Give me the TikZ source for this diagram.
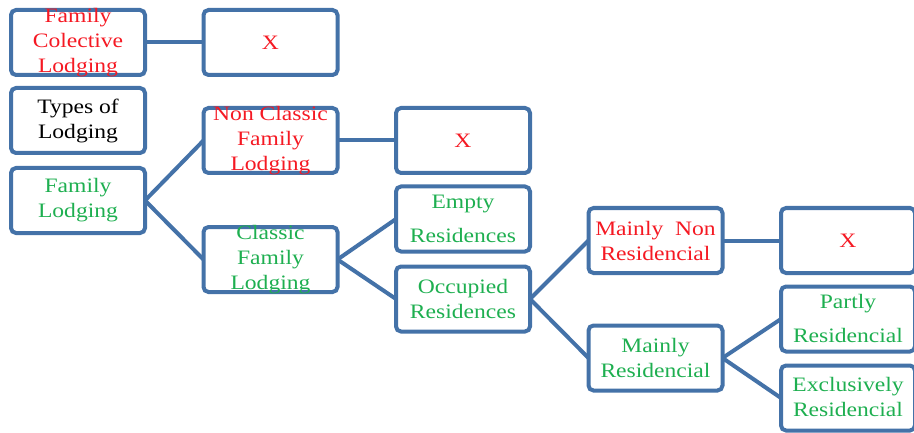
\documentclass[tikz,border=0pt]{standalone}
\usepackage{fontspec}
\setmainfont{Liberation Serif}[FakeStretch=1.15]
\usetikzlibrary{positioning}

\definecolor{boxblue}{RGB}{68,114,168}
\definecolor{nored}{RGB}{245,25,35}
\definecolor{yesgreen}{RGB}{30,175,80}

\begin{document}
\begin{tikzpicture}[
  x=1pt, y=1pt,
  node distance=58.5pt,
  box/.style={rectangle, rounded corners=5pt, draw=boxblue, line width=4pt,
              minimum width=134pt, minimum height=65pt, outer sep=0pt},
  link/.style={draw=boxblue, line width=4pt},
  txt/.style={align=center, inner sep=0pt, font=\fontsize{20.5}{25}\selectfont},
  notxt/.style={txt, text=nored},
  yestxt/.style={txt, text=yesgreen}
]
\useasboundingbox (0,0) rectangle (914,432);

% first column
\node[box] (fcl) at (78,389.5) {};
\node[box] (types) at (78,311.5) {};
\node[box] (fam) at (78,231.5) {};

% second column
\node[box, right=of fcl] (xa) {};
\node[box] (ncl) at (270.5,291.5) {};
\node[box] (cl) at (270.5,172.5) {};

% third column
\node[box, right=of ncl] (xb) {};
\node[box] (empty) at (463,213) {};
\node[box] (occ) at (463,133) {};

% fourth and fifth column
\node[box] (mnr) at (655.5,191.5) {};
\node[box] (mr) at (655.5,74) {};
\node[box, right=of mnr] (xc) {};
\node[box] (part) at (848,113) {};
\node[box] (excl) at (848,34) {};

% texts
\node[notxt] (fcltxt) at (fcl) {Family\\Colective\\Lodging};
\node[txt] (typestxt) at (types) {Types of\\Lodging};
\node[yestxt] (famtxt) at (fam) {Family\\Lodging};
\node[notxt] (xatxt) at (xa) {X};
\node[notxt] (ncltxt) at (ncl) {Non Classic\\Family\\Lodging};
\node[yestxt] (cltxt) at (cl) {Classic\\Family\\Lodging};
\node[notxt] (xbtxt) at (xb) {X};
\node[yestxt] (emptytxt) at (empty) {Empty\\[9pt]Residences};
\node[yestxt] (occtxt) at (occ) {Occupied\\Residences};
\node[notxt] (mnrtxt) at (mnr) {Mainly\ \ Non\\Residencial};
\node[yestxt] (mrtxt) at (mr) {Mainly\\Residencial};
\node[notxt] (xctxt) at (xc) {X};
\node[yestxt] (parttxt) at ([yshift=1pt]part) {Partly\\[9pt]Residencial};
\node[yestxt] (excltxt) at ([yshift=1pt]excl) {Exclusively\\Residencial};

% links
\draw[link] (fcl.east) -- (xa.west);
\draw[link] (fam.east) -- (ncl.west);
\draw[link] (fam.east) -- (cl.west);
\draw[link] (ncl.east) -- (xb.west);
\draw[link] (cl.east) -- (empty.west);
\draw[link] (cl.east) -- (occ.west);
\draw[link] (occ.east) -- (mnr.west);
\draw[link] (occ.east) -- (mr.west);
\draw[link] (mnr.east) -- (xc.west);
\draw[link] (mr.east) -- (part.west);
\draw[link] (mr.east) -- (excl.west);

\end{tikzpicture}
\end{document}
